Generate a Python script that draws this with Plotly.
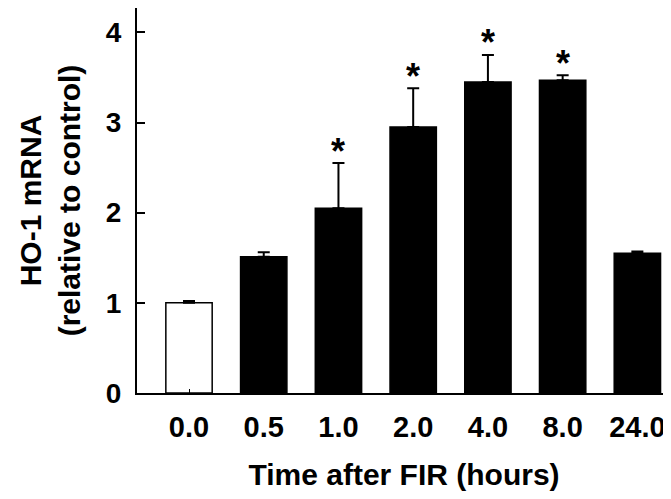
import plotly.graph_objects as go

categories = ["0.0", "0.5", "1.0", "2.0", "4.0", "8.0", "24.0"]
means = [1.00, 1.51, 2.05, 2.95, 3.45, 3.47, 1.55]
errors = [0.02, 0.05, 0.50, 0.43, 0.30, 0.055, 0.02]
significant = [False, False, True, True, True, True, False]
y_ticks = [0, 1, 2, 3, 4]

FONT = "Liberation Sans, Arial, Helvetica, sans-serif"

fill = ["white"] + ["black"] * (len(categories) - 1)

fig = go.Figure()
fig.add_trace(go.Bar(
    x=categories,
    y=means,
    width=0.62,
    marker=dict(color=fill, line=dict(color="black", width=1.5)),
    error_y=dict(type="data", symmetric=False, array=errors,
                 arrayminus=[0] * len(errors),
                 color="black", thickness=2, width=6),
    showlegend=False,
))

for i, (m, e, s) in enumerate(zip(means, errors, significant)):
    if s:
        fig.add_annotation(x=i, y=m + e, text="<b>*</b>", showarrow=False,
                           xref="x", yref="y", yanchor="middle", yshift=12,
                           font=dict(family=FONT, size=36, color="black"))

fig.update_layout(
    width=663, height=483,
    margin=dict(l=129, r=0, t=0, b=98),
    plot_bgcolor="white", paper_bgcolor="white",
    bargap=0.38,
    font=dict(family=FONT, color="black"),
    xaxis=dict(
        type="category",
        range=[-0.696, 6.45],
        automargin=False,
        showline=True, linecolor="black", linewidth=2, mirror=True,
        ticks="inside", ticklen=4, tickcolor="black", tickwidth=1,
        tickfont=dict(family=FONT, size=29, color="black"),
        tickprefix="<b>", ticksuffix="</b>",
        ticklabelstandoff=7,
        title=dict(text="<b>Time after FIR (hours)</b>",
                   font=dict(family=FONT, size=30, color="black"), standoff=28),
        showgrid=False, zeroline=False,
    ),
    yaxis=dict(
        range=[0, 4.27],
        automargin=False,
        tickvals=y_ticks,
        ticktext=["<b>%d</b>" % v for v in y_ticks],
        showline=True, linecolor="black", linewidth=2,
        ticks="inside", ticklen=8, tickcolor="black", tickwidth=1.5,
        tickfont=dict(family=FONT, size=28, color="black"),
        ticklabelstandoff=8,
        title=dict(text="<b>HO-1 mRNA<br>(relative to control)</b>",
                   font=dict(family=FONT, size=30, color="black"), standoff=16),
        showgrid=False, zeroline=False,
    ),
)

fig.write_html("out.html")
